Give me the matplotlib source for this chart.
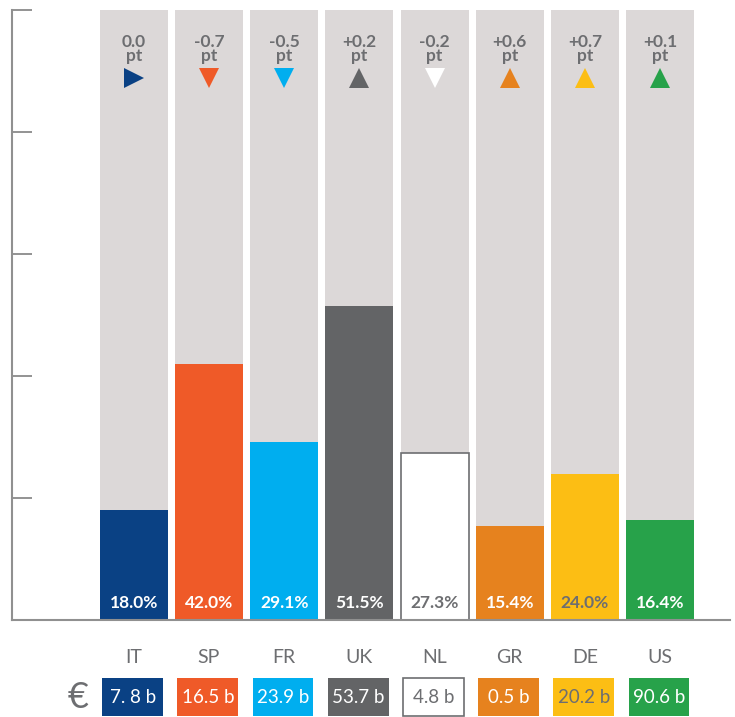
import numpy as np
import matplotlib.pyplot as plt
from matplotlib.patches import Rectangle

countries = ['IT', 'SP', 'FR', 'UK', 'NL', 'GR', 'DE', 'US']
shares = [18.0, 42.0, 29.1, 51.5, 27.3, 15.4, 24.0, 16.4]
changes = [0.0, -0.7, -0.5, 0.2, -0.2, 0.6, 0.7, 0.1]
amounts = ['7. 8 b', '16.5 b', '23.9 b', '53.7 b', '4.8 b', '0.5 b', '20.2 b', '90.6 b']
colors = ['#0a4184', '#ef5a28', '#00aeef', '#636466', '#ffffff', '#e6821e', '#fcbe14', '#27a24a']
text_on_bar = ['white', 'white', 'white', 'white', '#6d6e71', 'white', '#6d6e71', 'white']

grey_txt = '#6d6e71'
plt.rcParams['font.family'] = ['Lato', 'DejaVu Sans']

fig = plt.figure(figsize=(7.35, 7.17), dpi=100)
ax = fig.add_axes([12/735, 97/717, 718/735, 610/717])

x = np.arange(len(countries))
w = 0.905
ax.bar(x, [100]*len(x), width=w, color='#dcd8d8', zorder=1)
ax.bar(x, shares, width=w, color=colors, edgecolor=['none']*4 + ['#6d6e71'] + ['none']*3,
       linewidth=1.2, zorder=2)

tr = ax.get_xaxis_transform()
for i in range(len(x)):
    ax.text(x[i], 1.4, f'{shares[i]:.1f}%', ha='center', va='bottom', fontsize=12.5,
            fontweight='bold', color=text_on_bar[i], zorder=3)
    c = changes[i]
    lab = f'{c:+.1f}' if c != 0 else '0.0'
    # change label: value and 'pt' on two tight lines
    ax.text(x[i], 96.1, lab + '\npt', ha='center', va='top', fontsize=12.5, fontweight='bold',
            color=grey_txt, linespacing=0.88)
    m = '>' if c == 0 else ('v' if c < 0 else '^')
    ax.plot(x[i], 88.9, marker=m, markersize=14.5, color=colors[i], markeredgewidth=0, zorder=3)
    # country name and amount box below the axis
    ax.text(x[i], -0.062, countries[i], transform=tr, ha='center', va='center',
            fontsize=14, color=grey_txt, clip_on=False)
    ax.add_patch(Rectangle((x[i] - 0.42, -0.157), 0.81, 0.062, transform=tr,
                           facecolor=colors[i], edgecolor='#6d6e71' if colors[i] == '#ffffff' else 'none',
                           linewidth=1.2, clip_on=False))
    ax.text(x[i] - 0.015, -0.127, amounts[i], transform=tr, ha='center', va='center',
            fontsize=13.5, color=text_on_bar[i], clip_on=False)

ax.text(-0.74, -0.127, '€', transform=tr, ha='center', va='center',
        fontsize=26, color=grey_txt, clip_on=False)

ax.set_xlim(-1.62, 7.93)
ax.set_ylim(0, 100)
ax.set_yticks([0, 20, 40, 60, 80, 100])
ax.set_yticklabels([])
ax.set_xticks([])
ax.tick_params(axis='y', direction='in', length=14.5, width=1.2, color='#808080')
for s in ['top', 'right']:
    ax.spines[s].set_visible(False)
for s in ['left', 'bottom']:
    ax.spines[s].set_color('#909090')
    ax.spines[s].set_linewidth(1.5)

fig.savefig('out.png', dpi=100)
